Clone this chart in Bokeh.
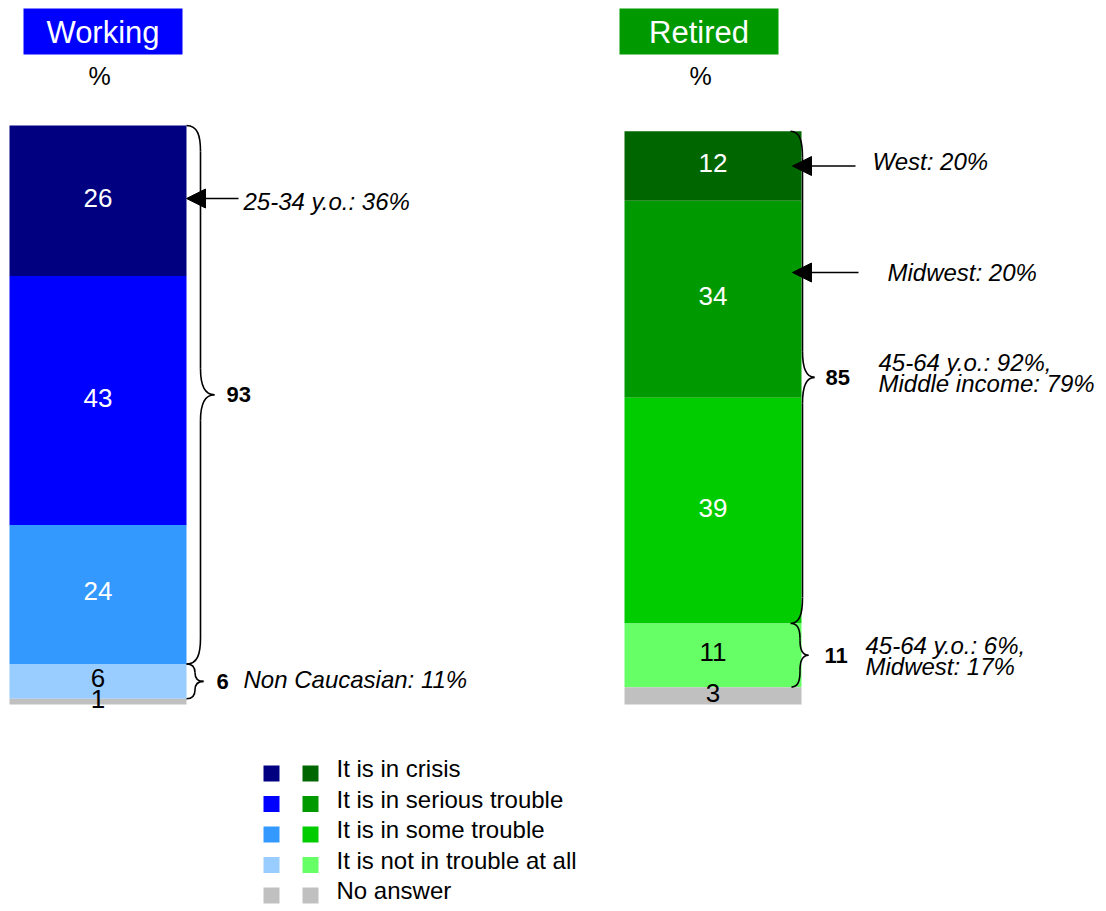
from bokeh.plotting import figure
from bokeh.models import ColumnDataSource, Range1d, Arrow, NormalHead
from bokeh.embed import file_html
from bokeh.resources import INLINE
from bokeh.core.properties import value

# ---------------- data ----------------
groups = ["Working", "Retired"]
levels = ["It is in crisis", "It is in serious trouble", "It is in some trouble",
          "It is not in trouble at all", "No answer"]
working = [26, 43, 24, 6, 1]
retired = [12, 34, 39, 11, 3]
working_colors = ["#000080", "#0000FF", "#3399FF", "#99CCFF", "#C0C0C0"]
retired_colors = ["#006600", "#009900", "#00CC00", "#66FF66", "#C0C0C0"]
label_colors = ["white", "white", "white", "black", "black"]
working_net = [93, 6]
retired_net = [85, 11]
working_notes = ["25-34 y.o.: 36%", "Non Caucasian: 11%"]
retired_notes = ["West: 20%", "Midwest: 20%", "45-64 y.o.: 92%,", "Middle income: 79%",
                 "45-64 y.o.: 6%,", "Midwest: 17%"]

FONT = "Liberation Sans"
W, H = 1100, 905
PX = 5.79          # pixels per percentage point
BASE = 704         # pixel row of the bar base

def ypx(img_y):
    """data y of a pixel row, used only for annotation placement"""
    return (BASE - img_y) / PX

p = figure(width=W, height=H, x_range=Range1d(0, W),
           y_range=Range1d(-(H - BASE) / PX, BASE / PX),
           output_backend="svg", toolbar_location=None,
           x_axis_type=None, y_axis_type=None, min_border=0)
p.grid.visible = False
p.outline_line_color = None
p.background_fill_color = "white"
p.border_fill_color = "white"

def stack(vals):
    tops, bots = [], []
    cur = sum(vals)
    for v in vals:
        tops.append(cur)
        bots.append(cur - v)
        cur -= v
    return tops, bots

bar_x = {"Working": 97.5, "Retired": 712.5}
BAR_W = 177
for g, vals, cols in [("Working", working, working_colors), ("Retired", retired, retired_colors)]:
    tops, bots = stack(vals)
    src = ColumnDataSource(dict(x=[bar_x[g]] * len(vals), top=tops, bottom=bots, color=cols,
                                mid=[(t + b) / 2 for t, b in zip(tops, bots)],
                                lab=[str(v) for v in vals], lc=label_colors))
    p.vbar(x="x", width=BAR_W, top="top", bottom="bottom", fill_color="color",
           line_color=None, source=src)
    p.text(x="x", y="mid", text="lab", text_color="lc", text_align="center",
           text_baseline="middle", text_font=value(FONT), text_font_size="26px",
           y_offset=-3, source=src)

# title boxes
title_cols = {"Working": "#0000FF", "Retired": "#009900"}
title_left = {"Working": 23, "Retired": 619}
pct_x = {"Working": 99, "Retired": 700}
for g in groups:
    l = title_left[g]
    p.quad(left=l, right=l + 159, top=ypx(8), bottom=ypx(54), fill_color=title_cols[g], line_color=None)
    p.text(x=l + 79.5, y=ypx(32), text=[g], text_color="white", text_align="center",
           text_baseline="middle", text_font=value(FONT), text_font_size="31px")
    p.text(x=pct_x[g], y=ypx(75), text=["%"], text_color="black",
           text_align="center", text_baseline="middle", text_font=value(FONT), text_font_size="25px")

# braces
def brace(x0, d, y_top, y_bot, r):
    ym = (y_top + y_bot) / 2
    bx = dict(x0=[], y0=[], x1=[], y1=[], cx0=[], cy0=[], cx1=[], cy1=[])
    def add(a, b, c0, c1):
        bx["x0"].append(a[0]); bx["y0"].append(a[1])
        bx["x1"].append(b[0]); bx["y1"].append(b[1])
        bx["cx0"].append(c0[0]); bx["cy0"].append(c0[1])
        bx["cx1"].append(c1[0]); bx["cy1"].append(c1[1])
    xm = x0 + d
    tip = x0 + 2 * d
    add((x0, y_top), (xm, y_top - r), (x0 + 0.8 * d, y_top), (xm, y_top - 0.4 * r))
    add((xm, y_top - r), (xm, ym + r), (xm, y_top - r), (xm, ym + r))
    add((xm, ym + r), (tip, ym), (xm, ym + 0.3 * r), (xm + 0.4 * d, ym))
    add((tip, ym), (xm, ym - r), (xm + 0.4 * d, ym), (xm, ym - 0.3 * r))
    add((xm, ym - r), (xm, y_bot + r), (xm, ym - r), (xm, y_bot + r))
    add((xm, y_bot + r), (x0, y_bot), (xm, y_bot + 0.4 * r), (x0 + 0.8 * d, y_bot))
    p.bezier(source=ColumnDataSource(bx), x0="x0", y0="y0", x1="x1", y1="y1",
             cx0="cx0", cy0="cy0", cx1="cx1", cy1="cy1", line_color="black", line_width=1.6)
    return ym

w_tops, w_bots = stack(working)
r_tops, r_bots = stack(retired)
w_total = sum(working)
r_total = sum(retired)

ym1 = brace(186, 14, w_total, w_total - working_net[0], 4.5)
ym2 = brace(186, 8.5, w_bots[2], w_bots[3], 1.5)
ym3 = brace(790, 12, r_total, r_total - retired_net[0], 4.5)
ym4 = brace(791, 8.5, r_bots[2], r_bots[3], 2.6)

def bold(x, y, t):
    p.text(x=x, y=y, text=[t], text_color="black", text_align="left", text_baseline="middle",
           text_font=value(FONT), text_font_size="22px", text_font_style="bold")

def ital(x, y, t):
    p.text(x=x, y=y, text=[t], text_color="black", text_align="left", text_baseline="middle",
           text_font=value(FONT), text_font_size="24px", text_font_style="italic")

bold(226, ym1, str(working_net[0]))
bold(216, ym2, str(working_net[1]))
bold(825, ym3, str(retired_net[0]))
bold(824, ym4, str(retired_net[1]))

ital(243, ypx(201), working_notes[0])
ital(243, ypx(679), working_notes[1])
ital(872, ypx(161), retired_notes[0])
ital(887, ypx(272), retired_notes[1])
ital(878, ypx(362), retired_notes[2])
ital(878, ypx(383), retired_notes[3])
ital(865, ypx(645), retired_notes[4])
ital(865, ypx(666), retired_notes[5])

# arrows
for (xs, xe, yy) in [(238, 186, ypx(198)),
                     (855, 792, (r_tops[0] + r_bots[0]) / 2),
                     (858, 792, ypx(272))]:
    p.add_layout(Arrow(end=NormalHead(size=19, fill_color="black", line_color="black"),
                       x_start=xs, y_start=yy, x_end=xe, y_end=yy,
                       line_color="black", line_width=1.6))

# legend
ROW0 = ypx(773)
STEP = 30.5 / PX
rows = [ROW0 - i * STEP for i in range(len(levels))]
p.scatter(x=[271] * len(levels), y=rows, marker="square", size=16,
          fill_color=working_colors, line_color=None)
p.scatter(x=[310] * len(levels), y=rows, marker="square", size=16,
          fill_color=retired_colors, line_color=None)
p.text(x=[336] * len(levels), y=rows, text=levels, text_color="black", text_align="left",
       text_baseline="middle", text_font=value(FONT), text_font_size="24px", y_offset=-5)

open("out.html", "w").write(file_html(p, INLINE))
